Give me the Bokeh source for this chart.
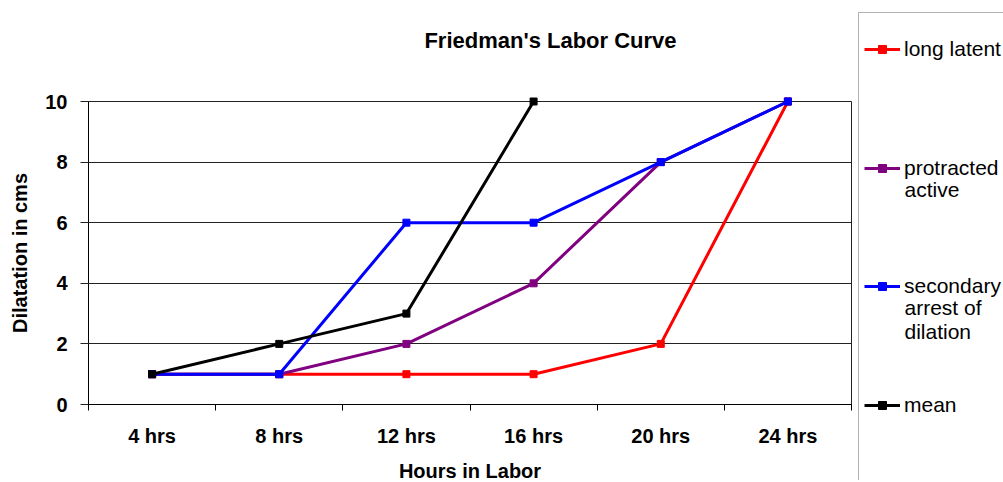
from bokeh.plotting import figure
from bokeh.models import (Range1d, FixedTicker, Legend, LegendItem, LinearAxis,
                          BoxAnnotation, Label)
from bokeh.embed import file_html
from bokeh.resources import INLINE

categories = ["4 hrs", "8 hrs", "12 hrs", "16 hrs", "20 hrs", "24 hrs"]
long_latent = [1, 1, 1, 1, 2, 10]
protracted_active = [1, 1, 2, 4, 8, 10]
secondary_arrest = [1, 1, 6, 6, 8, 10]
mean = [1, 2, 3, 10]
y_ticks = [0, 2, 4, 6, 8, 10]

# legend text: first line next to the swatch, the rest wrapped below it
series_first = ["long latent", "protracted", "secondary", "mean"]
series_rest = [None, "active", "arrest of\ndilation", None]
series_values = [long_latent, protracted_active, secondary_arrest, mean]
series_colors = ["#FF0000", "#800080", "#0000FF", "#000000"]

FONT = "Liberation Sans"
BOLD_SIZE = "20px"
LEGEND_SIZE = "21px"

# layout (pixels): canvas, plot-area position
W, H = 1003, 480
PX0, PX1 = 88, 851      # plot area left / right
PY0, PY1 = 404, 101     # y = 0 and y = 10 (from top)
YMAX = 10
ncat = len(categories)
x_per = (PX1 - PX0) / ncat
y_per = (PY0 - PY1) / YMAX

p = figure(width=W, height=H, output_backend="svg", toolbar_location=None,
           x_range=Range1d(-PX0 / x_per, (W - PX0) / x_per),
           y_range=Range1d(-(H - PY0) / y_per, PY0 / y_per),
           x_axis_location=None, y_axis_location=None,
           min_border_left=0, min_border_right=0, min_border_top=0, min_border_bottom=0)
p.grid.visible = False
p.outline_line_color = None
p.background_fill_color = "white"
p.border_fill_color = "white"

centers = [i + 0.5 for i in range(ncat)]

xa = LinearAxis(fixed_location=0, bounds=(0, ncat),
                ticker=FixedTicker(ticks=centers, minor_ticks=list(range(ncat + 1))))
xa.major_label_overrides = {c: lab for c, lab in zip(centers, categories)}
xa.major_tick_out = 0
xa.major_tick_in = 0
xa.minor_tick_out = 6
xa.minor_tick_in = 0
xa.axis_line_color = "black"
xa.minor_tick_line_color = "black"
xa.major_label_text_font = FONT
xa.major_label_text_font_size = BOLD_SIZE
xa.major_label_text_font_style = "bold"
xa.major_label_text_color = "black"
xa.major_label_standoff = 14
xa.axis_label = "Hours in Labor"
xa.axis_label_text_font = FONT
xa.axis_label_text_font_size = BOLD_SIZE
xa.axis_label_text_font_style = "bold"
xa.axis_label_text_color = "black"
xa.axis_label_standoff = 10
p.add_layout(xa, "below")

# y axis; its inward ticks span the plot area and act as the horizontal gridlines
ya = LinearAxis(fixed_location=0, bounds=(0, YMAX),
                ticker=FixedTicker(ticks=y_ticks, minor_ticks=[]), level="underlay")
ya.major_tick_out = 8
ya.major_tick_in = PX1 - PX0
ya.axis_line_color = "black"
ya.major_tick_line_color = "#222222"
ya.major_label_text_font = FONT
ya.major_label_text_font_size = BOLD_SIZE
ya.major_label_text_font_style = "bold"
ya.major_label_text_color = "black"
ya.major_label_standoff = 13
ya.axis_label = "Dilatation in cms"
ya.axis_label_text_font = FONT
ya.axis_label_text_font_size = BOLD_SIZE
ya.axis_label_text_font_style = "bold"
ya.axis_label_text_color = "black"
ya.axis_label_standoff = 11
p.add_layout(ya, "left")

# right border of the plot area
rb = LinearAxis(fixed_location=ncat, bounds=(0, YMAX), ticker=FixedTicker(ticks=[]),
                major_tick_out=0, major_tick_in=0, minor_tick_out=0, minor_tick_in=0,
                axis_line_color="#222222", level="underlay")
p.add_layout(rb, "right")

# title
p.add_layout(Label(x=550, y=H - 40, x_units="screen", y_units="screen",
                   text="Friedman's Labor Curve", text_font=FONT, text_font_size="22px",
                   text_font_style="bold", text_color="black",
                   text_align="center", text_baseline="middle"))

# legend frame
p.add_layout(BoxAnnotation(left=858, right=W + 50, top=H - 12, bottom=-50,
                           left_units="screen", right_units="screen",
                           top_units="screen", bottom_units="screen",
                           fill_alpha=0, line_color="black", line_width=1))

legend_line_y = [48, 167, 285, 404]   # swatch rows (px from top)
for first, rest, vals, col, ly in zip(series_first, series_rest, series_values,
                                       series_colors, legend_line_y):
    xs = centers[:len(vals)]
    ln = p.line(xs, vals, line_color=col, line_width=3)
    sq = p.scatter(xs, vals, marker="square", size=7, fill_color=col, line_color=col)
    lg = Legend(items=[LegendItem(label=first, renderers=[ln, sq])],
                location=(864, H - (ly + 12.5)), padding=0, margin=0, spacing=0,
                glyph_width=36, glyph_height=20, label_standoff=4,
                label_text_font=FONT, label_text_font_size=LEGEND_SIZE,
                label_text_color="black", border_line_alpha=0,
                background_fill_alpha=0)
    p.add_layout(lg)
    if rest:
        p.add_layout(Label(x=904, y=H - (ly + 10), x_units="screen", y_units="screen",
                           text=rest, text_font=FONT, text_font_size=LEGEND_SIZE,
                           text_color="black", text_align="left", text_baseline="top",
                           text_line_height=1.05))

open("out.html", "w").write(file_html(p, INLINE))
